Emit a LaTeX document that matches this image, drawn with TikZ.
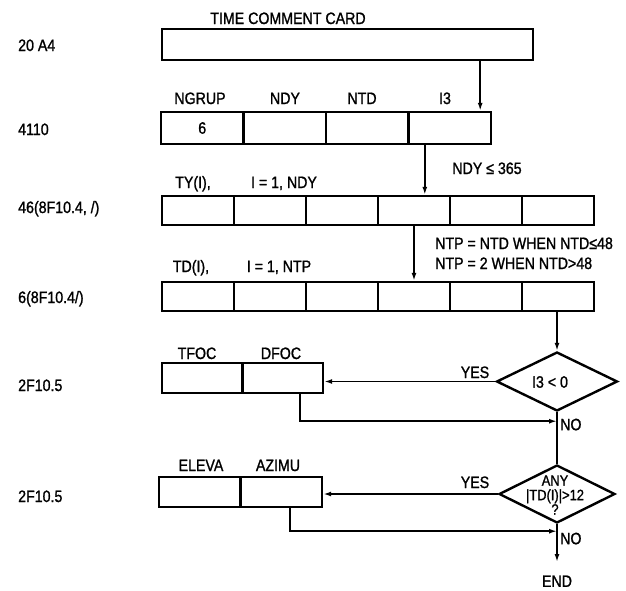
\documentclass[tikz,border=0pt]{standalone}
\usepackage{fontspec}
\setmainfont{Liberation Sans}[FakeStretch=0.86,FakeBold=1.2]
\usetikzlibrary{arrows.meta,shapes.geometric}

\begin{document}
\begin{tikzpicture}[x=1pt,y=-1pt,font=\fontsize{16.5}{15}\selectfont,
        cell/.style={draw,line width=2.4pt,inner sep=0pt,minimum height=30pt},
        test/.style={draw,diamond,line width=2.4pt,inner sep=0pt},
        arr/.style={line width=1.8pt,-{Latex[length=8pt,width=5pt]}},
        lbl/.style={anchor=base,inner sep=1pt}]
    \useasboundingbox (0,0) rectangle (626,590);
    % format labels on the left
    \foreach \t/\y [count=\i] in {20 A4/51, 4110/135, {46(8F10.4, /)}/213, {6(8F10.4/)}/303, 2F10.5/391, 2F10.5/502}
        \node[lbl,anchor=base west] (fmt\i) at (17,\y) {\t};
    % comment card
    \node[cell,minimum width=371pt,minimum height=31pt] (card) at (347.5,44.5) {};
    \node[lbl] (title) at (288,24) {TIME COMMENT CARD};
    % 4110 record
    \foreach \n/\v/\x [count=\i] in {NGRUP/6/200, NDY//285, NTD//362, I3//445}{
        \node[cell,minimum width=82.5pt,minimum height=32pt] (c\i) at ({161+82.5*(\i-0.5)},128) {\v};
        \node[lbl] (n\i) at (\x,104) {\n};
    }
    % TY and TD records
    \foreach \i in {1,...,6}{
        \node[cell,minimum width=72pt,minimum height=29pt] (t\i) at ({162+72*(\i-0.5)},210.5) {};
        \node[cell,minimum width=72pt,minimum height=29pt] (d\i) at ({162+72*(\i-0.5)},296.5) {};
    }
    \node[lbl] (ty) at (193,188) {TY(I),};
    \node[lbl] (tyrange) at (284,188) {I = 1, NDY};
    \node[lbl] (td) at (191,272) {TD(I),};
    \node[lbl] (tdrange) at (279,272) {I = 1, NTP};
    \node[lbl] (ndy) at (487,174) {NDY ≤ 365};
    \node[lbl,anchor=base west] (ntp1) at (434,249) {NTP = NTD WHEN NTD≤48};
    \node[lbl,anchor=base west] (ntp2) at (434,269) {NTP = 2 WHEN NTD>48};
    % TFOC/DFOC and ELEVA/AZIMU
    \node[cell,minimum width=80.5pt] (e1) at (202.25,378) {};
    \node[cell,minimum width=80.5pt] (e2) at (282.75,378) {};
    \node[lbl] (tfoc) at (197,359) {TFOC};
    \node[lbl] (dfoc) at (281,359) {DFOC};
    \node[cell,minimum width=81.5pt] (a1) at (199.75,492) {};
    \node[cell,minimum width=81.5pt] (a2) at (281.25,492) {};
    \node[lbl] (eleva) at (201,471) {ELEVA};
    \node[lbl] (azimu) at (278,471) {AZIMU};
    % tests
    \node[test,minimum width=121pt,minimum height=59pt] (q1) at (557,381.5) {};
    \node (q1txt) at (550,382) {I3 < 0};
    \node[test,minimum width=116pt,minimum height=58pt] (q2) at (557,494) {};
    \node[align=center,inner sep=0pt,font=\fontsize{15}{14.5}\selectfont] (q2txt) at (555,495) {ANY\\|TD(I)|>12\\?};
    \node[lbl] (yes1) at (475,378) {YES};
    \node[lbl] (yes2) at (475,488) {YES};
    \node[anchor=north] (fin) at (557,572) {END};
    \coordinate (j1) at ([yshift=-9pt]q1.south);
    \coordinate (j2) at ([yshift=-7pt]q2.south);
    \node[lbl,anchor=base west] (no1) at ([xshift=2pt,yshift=-9pt]j1) {NO};
    \node[lbl,anchor=base west] (no2) at ([xshift=2pt,yshift=-13pt]j2) {NO};
    % connectors
    \coordinate (in1) at ([xshift=-12pt]c4.north east);
    \coordinate (in2) at ([xshift=17.5pt]c4.south west);
    \draw[arr] (in1 |- card.south) -- (in1);
    \draw[arr] (in2) -- (in2 |- t4.north);
    \draw[arr] (t4.south) -- (d4.north);
    \draw[arr] (q1.north |- d6.south) -- (q1.north);
    \draw[arr] (q1.west) -- (q1.west -| e2.east);
    \draw[arr] ([xshift=17pt]e2.south) |- (j1);
    \draw[line width=1.8pt] (q1.south) -- (q2.north);
    \draw[arr] (q2.west) -- (q2.west -| a2.east);
    \draw[arr] ([xshift=9pt]a2.south) |- (j2);
    \draw[arr] (q2.south) -- ([yshift=10pt]fin.north);
\end{tikzpicture}
\end{document}
